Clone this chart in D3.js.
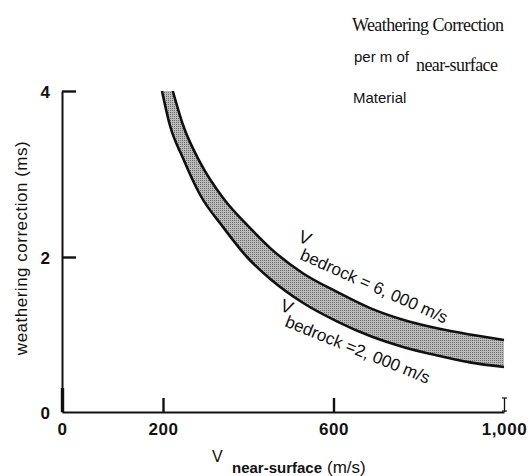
<!DOCTYPE html>
<html>
<head>
<meta charset="utf-8">
<script src="https://cdn.jsdelivr.net/npm/d3@7"></script>
<style>
body { margin: 0; background: #fff; }
svg { display: block; font-family: "Liberation Sans", Arial, sans-serif; }
</style>
</head>
<body>
<svg id="chart" width="530" height="476"></svg>
<script>
// values
var xTicks = [0, 200, 600, 1000];
var yTicks = [0, 2, 4];

// V bedrock = 6,000 m/s (upper edge of band)
var vUpper  = [223, 247, 287, 341, 404, 451, 528, 608, 686, 763, 843, 920, 1000];
var wcUpper = [4.0, 3.59, 3.14, 2.71, 2.35, 2.11, 1.79, 1.55, 1.34, 1.19, 1.08, 1.0, 0.93];

// V bedrock = 2,000 m/s (lower edge of band)
var vLower  = [198, 216, 247, 287, 341, 397, 451, 528, 608, 686, 763, 843, 920, 1000];
var wcLower = [4.0, 3.59, 3.19, 2.75, 2.36, 2.0, 1.72, 1.41, 1.17, 0.98, 0.84, 0.73, 0.64, 0.58];

var svg = d3.select("#chart");

// axis of the original is not quite linear, so use piecewise scales
var x = d3.scaleLinear().domain([0, 200, 1000]).range([62, 163, 504]);
var y = d3.scaleLinear().domain([0, 2, 4]).range([412, 257, 91]);

var defs = svg.append("defs");
var pat = defs.append("pattern")
	.attr("id", "stipple")
	.attr("width", 2).attr("height", 2)
	.attr("patternUnits", "userSpaceOnUse");
pat.append("rect").attr("width", 2).attr("height", 2).attr("fill", "#bcbcbc");
pat.append("rect").attr("width", 1).attr("height", 1).attr("fill", "#6a6a6a");

var upperPts = vUpper.map(function(v, i) { return [v, wcUpper[i]]; });
var lowerPts = vLower.map(function(v, i) { return [v, wcLower[i]]; });

var line = d3.line()
	.x(function(d) { return x(d[0]); })
	.y(function(d) { return y(d[1]); })
	.curve(d3.curveMonotoneX);

// shaded band between the two curves
var back = lowerPts.slice().reverse();
var bandPath = line(upperPts) + line(back).replace(/^M/, "L") + "Z";

svg.append("path")
	.attr("d", bandPath)
	.attr("fill", "url(#stipple)")
	.attr("stroke", "none");

svg.selectAll(".curve")
	.data([upperPts, lowerPts])
	.enter().append("path")
	.attr("class", "curve")
	.attr("d", line)
	.attr("fill", "none")
	.attr("stroke", "#111")
	.attr("stroke-width", 2.6);

// axes
var gx = svg.append("g")
	.attr("transform", "translate(0," + y(0) + ")")
	.call(d3.axisBottom(x).tickValues(xTicks).tickFormat(d3.format(","))
		.tickSize(-14).tickSizeOuter(0).tickPadding(11));

var gy = svg.append("g")
	.attr("transform", "translate(" + x(0) + ",0)")
	.call(d3.axisLeft(y).tickValues(yTicks).tickFormat(d3.format("d"))
		.tickSize(-14).tickSizeOuter(0).tickPadding(12));

svg.selectAll(".domain").attr("stroke", "#111").attr("stroke-width", 2);
svg.selectAll(".tick line").attr("stroke", "#111").attr("stroke-width", 2.4);
svg.selectAll(".tick text")
	.attr("fill", "#111")
	.attr("font-size", 17)
	.attr("font-weight", "bold")
	.attr("font-family", "Liberation Sans, Arial, sans-serif");
gx.selectAll(".tick text").attr("letter-spacing", 0.6);
gy.selectAll(".tick text").attr("dy", "0.36em");
gy.selectAll(".tick").filter(function(d) { return d === 0; }).select("line").remove();

// the 1,000 tick is drawn like a thin "I"
var lastTick = gx.selectAll(".tick").filter(function(d) { return d === 1000; });
lastTick.select("line").attr("stroke-width", 1.3);
lastTick.append("line")
	.attr("x1", -2.5).attr("x2", 2.5).attr("y1", -14).attr("y2", -14)
	.attr("stroke", "#111").attr("stroke-width", 1.2);
lastTick.append("line")
	.attr("x1", -2.5).attr("x2", 2.5).attr("y1", -1).attr("y2", -1)
	.attr("stroke", "#111").attr("stroke-width", 1.2);

// the 0 tick is heavier
gx.selectAll(".tick").filter(function(d) { return d === 0; }).select("line")
	.attr("y2", -24).attr("stroke-width", 3.4);

// y axis title
svg.append("text")
	.attr("transform", "translate(27,248) rotate(-90)")
	.attr("text-anchor", "middle")
	.attr("font-size", 17)
	.attr("letter-spacing", 0.5)
	.attr("fill", "#111")
	.text("weathering correction (ms)");

// x axis title
svg.append("text")
	.attr("x", 212).attr("y", 462)
	.attr("font-size", 16)
	.attr("fill", "#111")
	.text("V");
var xt = svg.append("text")
	.attr("x", 232).attr("y", 473)
	.attr("fill", "#111");
xt.append("tspan").attr("font-size", 15).attr("font-weight", "bold").text("near-surface");
xt.append("tspan").attr("font-size", 17).attr("dx", 5).text("(m/s)");

// curve labels
function curveLabel(vx, vy, bx, by, ang, txt) {
	svg.append("text")
		.attr("transform", "translate(" + vx + "," + vy + ") rotate(" + ang + ")")
		.attr("font-size", 18).attr("fill", "#111")
		.text("V");
	svg.append("text")
		.attr("transform", "translate(" + bx + "," + by + ") rotate(" + ang + ")")
		.attr("font-size", 17).attr("fill", "#111")
		.text(txt);
}
curveLabel(297, 241, 299, 259, 24, "bedrock = 6, 000 m/s");
curveLabel(279, 310, 284, 326, 22, "bedrock =2, 000 m/s");

// title block, top right
svg.append("text")
	.attr("x", 352).attr("y", 31)
	.attr("font-family", "Liberation Serif, Times New Roman, serif")
	.attr("font-size", 18)
	.attr("letter-spacing", -0.6)
	.attr("fill", "#111")
	.text("Weathering Correction");
svg.append("text")
	.attr("x", 354).attr("y", 62)
	.attr("font-size", 15)
	.attr("fill", "#111")
	.text("per m of");
svg.append("text")
	.attr("x", 416).attr("y", 71)
	.attr("font-family", "Liberation Serif, Times New Roman, serif")
	.attr("font-size", 18)
	.attr("letter-spacing", -0.6)
	.attr("fill", "#111")
	.text("near-surface");
svg.append("text")
	.attr("x", 353).attr("y", 103)
	.attr("font-size", 15)
	.attr("fill", "#111")
	.text("Material");
</script>
</body>
</html>
